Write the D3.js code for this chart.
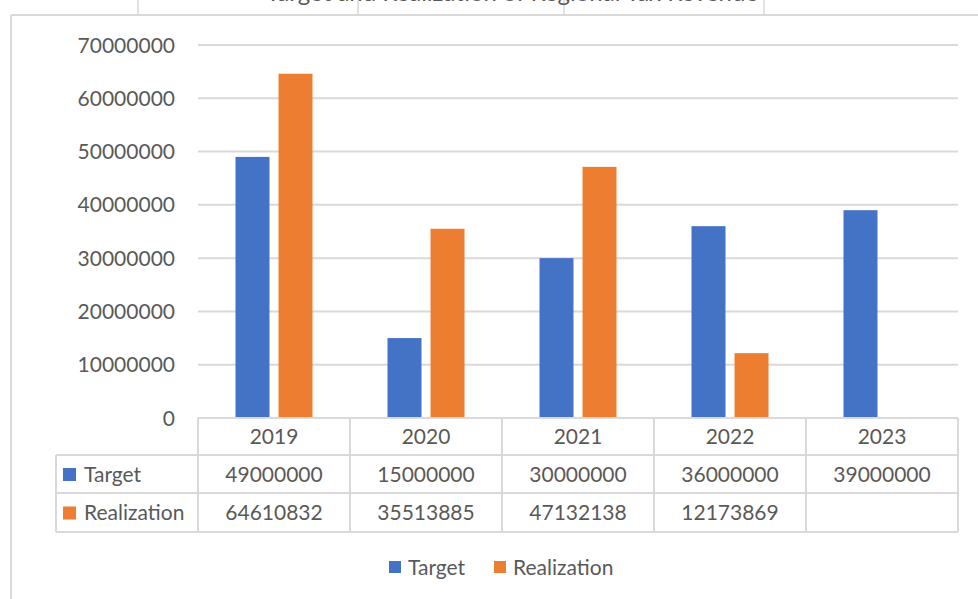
<!DOCTYPE html>
<html>
<head>
<meta charset="utf-8">
<script src="https://cdn.jsdelivr.net/npm/d3@7"></script>
<style>
  html, body { margin: 0; padding: 0; background: #fff; }
  svg { display: block; }
  text { font-family: Lato, "Open Sans", sans-serif; fill: #595959; }
</style>
</head>
<body>
<svg id="chart" width="978" height="599"></svg>
<script>
// Chart data
const years = ["2019", "2020", "2021", "2022", "2023"];
const seriesNames = ["Target", "Realization"];
const targetValues = [49000000, 15000000, 30000000, 36000000, 39000000];
const realizationValues = [64610832, 35513885, 47132138, 12173869, null];
const yTicks = [0, 10000000, 20000000, 30000000, 40000000, 50000000, 60000000, 70000000];
const seriesColors = ["#4472C4", "#ED7D31"];
const chartTitle = "Target and Realization of Regional Tax Revenue";

const seriesValues = [targetValues, realizationValues];

const svg = d3.select("#chart");
const gridColor = "#D9D9D9";

// frame lines around the chart object
const frame = svg.append("g").attr("stroke", gridColor).attr("stroke-width", 2).attr("fill", "none");
frame.append("line").attr("x1", 11).attr("x2", 978).attr("y1", 15).attr("y2", 15);
frame.append("line").attr("x1", 11).attr("x2", 11).attr("y1", 15).attr("y2", 599);
[138, 358, 564, 764].forEach(x => {
  frame.append("line").attr("x1", x).attr("x2", x).attr("y1", 0).attr("y2", 15).attr("stroke-width", 1.5);
});

// title, scrolled mostly above the top edge
svg.append("text")
  .attr("x", 512).attr("y", 1)
  .attr("text-anchor", "middle")
  .attr("font-size", 24)
  .text(chartTitle);

// plot area
const plot = { left: 198, right: 958, top: 45, bottom: 418 };

const x = d3.scaleBand().domain(years).range([plot.left, plot.right]).padding(0);
const groupWidth = 77;
const xs = d3.scaleBand().domain(seriesNames).range([0, groupWidth]).paddingInner(0.21).paddingOuter(0);
const y = d3.scaleLinear().domain([0, 70000000]).range([plot.bottom, plot.top]);

// gridlines
svg.append("g")
  .selectAll("line")
  .data(yTicks.filter(d => d > 0))
  .join("line")
  .attr("x1", plot.left).attr("x2", plot.right)
  .attr("y1", d => y(d)).attr("y2", d => y(d))
  .attr("stroke", gridColor).attr("stroke-width", 2);

// y axis labels
const yAxis = d3.axisLeft(y).tickValues(yTicks).tickFormat(d3.format("d")).tickSize(0).tickPadding(0);
const yG = svg.append("g").attr("transform", `translate(175,0)`).call(yAxis);
yG.select(".domain").remove();
yG.selectAll("text").attr("font-size", 21).attr("fill", "#595959").attr("font-family", "Lato, sans-serif").attr("dy", "0.34em");

// bars
const groups = svg.append("g")
  .selectAll("g")
  .data(years)
  .join("g")
  .attr("transform", d => `translate(${x(d) + (x.bandwidth() - groupWidth) / 2},0)`);

groups.selectAll("rect")
  .data((d, i) => seriesNames.map((s, j) => ({ s, v: seriesValues[j][i], c: seriesColors[j] })).filter(e => e.v != null))
  .join("rect")
  .attr("x", d => xs(d.s))
  .attr("width", xs.bandwidth())
  .attr("y", d => y(d.v))
  .attr("height", d => y(0) - y(d.v))
  .attr("fill", d => d.c);

// data table
const tableLeft = 56;
const rowEdges = [418, 455, 493, 532];
const table = svg.append("g").attr("stroke", gridColor).attr("stroke-width", 2).attr("fill", "none");
// horizontal lines
table.append("line").attr("x1", plot.left).attr("x2", plot.right).attr("y1", rowEdges[0]).attr("y2", rowEdges[0]);
rowEdges.slice(1).forEach(yy => {
  table.append("line").attr("x1", tableLeft).attr("x2", plot.right).attr("y1", yy).attr("y2", yy);
});
// vertical lines
table.append("line").attr("x1", tableLeft).attr("x2", tableLeft).attr("y1", rowEdges[1]).attr("y2", rowEdges[3]);
years.forEach(yr => {
  table.append("line").attr("x1", x(yr)).attr("x2", x(yr)).attr("y1", rowEdges[0]).attr("y2", rowEdges[3]);
});
table.append("line").attr("x1", plot.right).attr("x2", plot.right).attr("y1", rowEdges[0]).attr("y2", rowEdges[3]);

const rowMid = i => (rowEdges[i] + rowEdges[i + 1]) / 2;

// header row: years
svg.append("g").selectAll("text")
  .data(years)
  .join("text")
  .attr("x", d => x(d) + x.bandwidth() / 2)
  .attr("y", rowMid(0))
  .attr("dy", "0.36em")
  .attr("text-anchor", "middle")
  .attr("font-size", 21)
  .text(d => d);

// series rows
seriesNames.forEach((name, j) => {
  const ym = rowMid(j + 1);
  svg.append("rect")
    .attr("x", 63).attr("y", ym - 6).attr("width", 13).attr("height", 13)
    .attr("fill", seriesColors[j]);
  svg.append("text")
    .attr("x", 84).attr("y", ym).attr("dy", "0.36em")
    .attr("font-size", 21)
    .text(name);
  svg.append("g").selectAll("text")
    .data(years.map((yr, i) => ({ yr, v: seriesValues[j][i] })).filter(d => d.v != null))
    .join("text")
    .attr("x", d => x(d.yr) + x.bandwidth() / 2)
    .attr("y", ym).attr("dy", "0.36em")
    .attr("text-anchor", "middle")
    .attr("font-size", 21)
    .text(d => d.v);
});

// legend
const legend = svg.append("g").attr("transform", "translate(389,567)");
const legendOffsets = [0, 105];
seriesNames.forEach((name, j) => {
  const g = legend.append("g").attr("transform", `translate(${legendOffsets[j]},0)`);
  g.append("rect").attr("x", 0).attr("y", -6).attr("width", 12).attr("height", 12).attr("fill", seriesColors[j]);
  g.append("text").attr("x", 19).attr("y", 0).attr("dy", "0.36em").attr("font-size", 21).text(name);
});
</script>
</body>
</html>
